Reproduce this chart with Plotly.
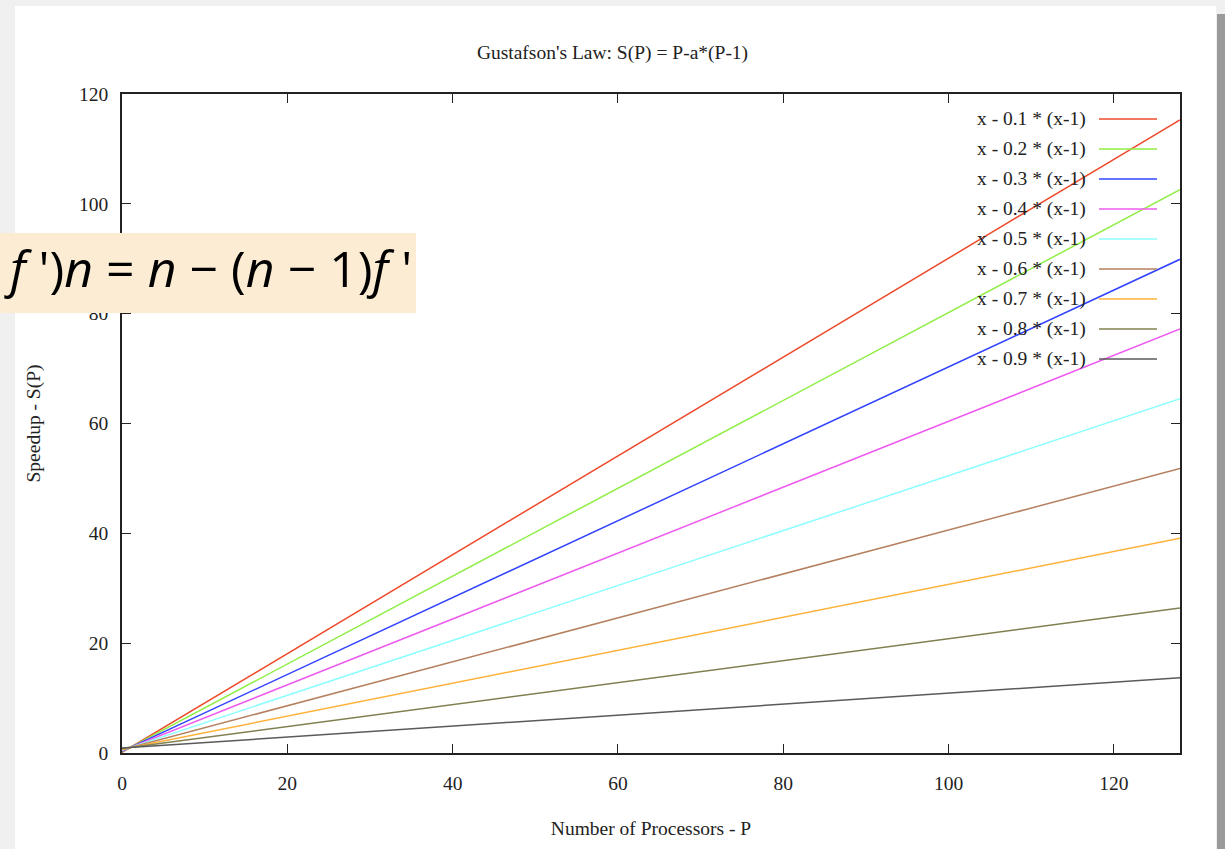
import plotly.graph_objects as go

# ---- data ----
fractions = [0.1, 0.2, 0.3, 0.4, 0.5, 0.6, 0.7, 0.8, 0.9]
labels = [f"x - {a} * (x-1)" for a in fractions]
p_values = [0, 128]
speedup_at_0 = [0.1, 0.2, 0.3, 0.4, 0.5, 0.6, 0.7, 0.8, 0.9]
speedup_at_128 = [115.3, 102.6, 89.9, 77.2, 64.5, 51.8, 39.1, 26.4, 13.7]
colors = ["#ee4a2a", "#8fee44", "#3344ff", "#ee5cee", "#8effff",
          "#b5805f", "#ffb23a", "#808052", "#5a5a5a"]
x_ticks = [0, 20, 40, 60, 80, 100, 120]
y_ticks = [0, 20, 40, 60, 80, 100, 120]

W, H = 1225, 849
L, R, T, B = 122, 1180, 94, 753

def px(x):
    return (x - L) / (R - L)

def py(y):
    return (B - y) / (B - T)

SERIF = "Liberation Serif, Times New Roman, serif"
FS = 19.5

fig = go.Figure()
for lab, y0, y1, c in zip(labels, speedup_at_0, speedup_at_128, colors):
    fig.add_trace(go.Scatter(x=p_values, y=[y0, y1], mode="lines", name=lab,
                             line=dict(color=c, width=1.5), showlegend=False,
                             hoverinfo="skip"))

shapes = [
    # page panel
    dict(type="rect", xref="paper", yref="paper", x0=px(15), x1=px(1216), y0=py(6), y1=py(849),
         fillcolor="white", line=dict(width=0), layer="below"),
    dict(type="rect", xref="paper", yref="paper", x0=px(1217), x1=px(1225), y0=py(14), y1=py(849),
         fillcolor="#9a9a9a", line=dict(width=0), layer="below"),
]
annotations = []
# custom gnuplot-style legend (text then sample line)
for i, (lab, c) in enumerate(zip(labels, colors)):
    yc = 119 + 30 * i
    annotations.append(dict(xref="paper", yref="paper", x=px(1088), y=py(yc), text=lab,
                            showarrow=False, xanchor="right", yanchor="middle",
                            font=dict(family=SERIF, size=FS, color="#222")))
    shapes.append(dict(type="line", xref="paper", yref="paper", x0=px(1099), x1=px(1157),
                       y0=py(yc), y1=py(yc), line=dict(color=c, width=1.5), layer="above"))

# formula overlay box
shapes.append(dict(type="rect", xref="paper", yref="paper", x0=px(0), x1=px(416), y0=py(233), y1=py(313),
                   fillcolor="#fcecd3", line=dict(width=0), layer="above"))
annotations.append(dict(xref="paper", yref="paper", x=px(2), y=py(268),
                        text="<i>f</i> ')<i>n</i> = <i>n</i> − (<i>n</i> − 1)<i>f</i> '",
                        showarrow=False, xanchor="left", yanchor="middle",
                        font=dict(family="Open Sans, Noto Sans, sans-serif", size=50, color="black")))

axis_common = dict(showline=True, linecolor="#222", linewidth=1.5, mirror="ticks",
                   ticks="inside", ticklen=9, tickwidth=1, tickcolor="#222",
                   showgrid=False, zeroline=False,
                   tickfont=dict(family=SERIF, size=FS, color="#222"))

fig.update_layout(
    width=W, height=H, autosize=False,
    margin=dict(l=L, r=W - R, t=T, b=H - B),
    paper_bgcolor="#f0f0f0", plot_bgcolor="white",
    title=dict(text="Gustafson's Law: S(P) = P-a*(P-1)", x=px(651), xanchor="center",
               y=1 - 52 / H, yanchor="middle",
               font=dict(family=SERIF, size=FS, color="#222")),
    xaxis=dict(range=[0, 128], tickvals=x_ticks, ticklabelstandoff=12,
               title=dict(text="Number of Processors - P", standoff=28,
                          font=dict(family=SERIF, size=FS, color="#222")),
               **axis_common),
    yaxis=dict(range=[0, 120], tickvals=y_ticks, ticklabelstandoff=8,
               title=dict(text="Speedup - S(P)", standoff=33,
                          font=dict(family=SERIF, size=FS, color="#222")),
               **axis_common),
    shapes=shapes, annotations=annotations, showlegend=False,
)

fig.write_html("out.html", config={"displayModeBar": False},
               post_script="document.body.style.margin='0';document.body.style.background='#f0f0f0';")
